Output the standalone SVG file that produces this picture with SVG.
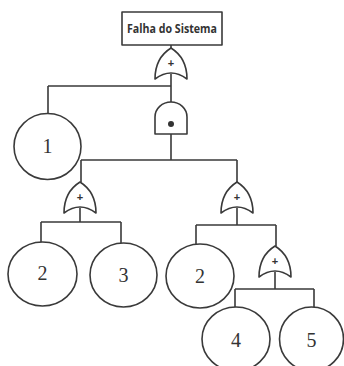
<svg xmlns="http://www.w3.org/2000/svg" width="344" height="366" viewBox="0 0 344 366">
<defs>
<style>
.s{fill:none;stroke:#3a3a3a;stroke-width:1.6}
.g{fill:#fff;stroke:#3a3a3a;stroke-width:1.6;stroke-linejoin:round}
.n{font-family:"Liberation Serif","Times New Roman",serif;font-size:20px;fill:#333;text-anchor:middle}
.t{font-family:"Open Sans","Liberation Sans",sans-serif;font-weight:bold;font-size:12px;fill:#333;text-anchor:middle}
.p{font-family:"Liberation Sans",sans-serif;font-weight:bold;font-size:11px;fill:#333;text-anchor:middle}
</style>
<path id="or" d="M-16,31 C-16,15 -8,5 0,0 C8,5 16,15 16,31 Q0,19 -16,31 Z"/>
</defs>
<rect width="344" height="366" fill="#fff"/>
<g id="connectors" class="s">
<path d="M171,45 V48"/>
<path d="M171,74 V86 M48,86 H171 M48,86 V114 M171,86 V102"/>
<path d="M171,134 V160 M81,160 H237 M81,160 V182 M237,160 V182"/>
<path d="M80,208 V222 M41,222 H121 M41,222 V242 M121,222 V243"/>
<path d="M237,208 V225 M196,225 H276 M196,225 V244 M276,225 V246"/>
<path d="M275,272 V289 M235,289 H314 M235,289 V307 M314,289 V307"/>
</g>
<g id="top">
<rect x="122" y="12" width="100" height="33" class="g"/>
<text x="172" y="33" class="t" textLength="90" lengthAdjust="spacingAndGlyphs">Falha do Sistema</text>
</g>
<g id="or1">
<use href="#or" x="171" y="48" class="g"/>
<text x="171" y="67" class="p">+</text>
</g>
<g id="and1">
<path d="M155,134 V117 A16,15 0 0 1 187,117 V134 Z" class="g"/>
<circle cx="171" cy="124" r="3" fill="#333"/>
</g>
<g id="or2">
<use href="#or" x="80" y="182" class="g"/>
<text x="80" y="201" class="p">+</text>
</g>
<g id="or3">
<use href="#or" x="237" y="182" class="g"/>
<text x="237" y="201" class="p">+</text>
</g>
<g id="or4">
<use href="#or" x="275" y="246" class="g"/>
<text x="275" y="265" class="p">+</text>
</g>
<g id="e1"><ellipse cx="47.5" cy="146.5" rx="33.5" ry="33" class="g"/><text x="47.5" y="153" class="n">1</text></g>
<g id="e2a"><ellipse cx="42.5" cy="274" rx="34.5" ry="32" class="g"/><text x="42.5" y="280" class="n">2</text></g>
<g id="e3"><ellipse cx="123.5" cy="275" rx="33.5" ry="32" class="g"/><text x="123.5" y="282" class="n">3</text></g>
<g id="e2b"><ellipse cx="200" cy="276" rx="34" ry="32" class="g"/><text x="200" y="283" class="n">2</text></g>
<g id="e4"><ellipse cx="236" cy="339" rx="34" ry="32" class="g"/><text x="236" y="347" class="n">4</text></g>
<g id="e5"><ellipse cx="311.5" cy="339" rx="32" ry="32" class="g"/><text x="311.5" y="347" class="n">5</text></g>
</svg>
